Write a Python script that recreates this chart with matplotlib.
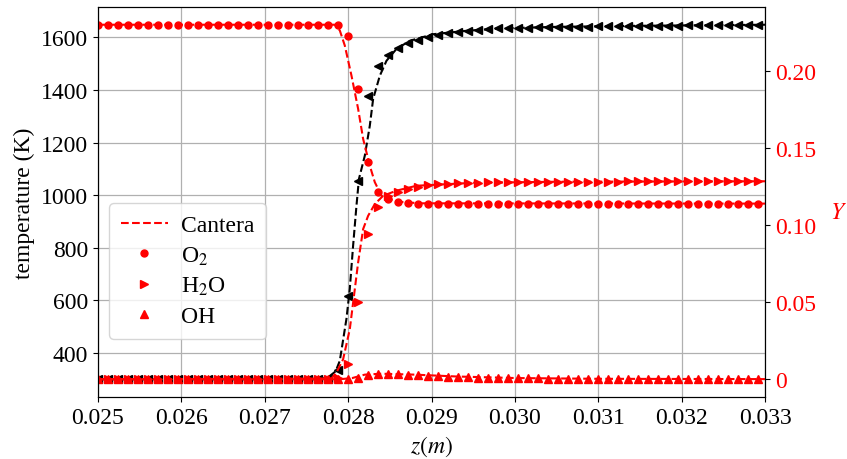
import numpy as np
import matplotlib
matplotlib.use("Agg")
import matplotlib.pyplot as plt
from matplotlib.ticker import FuncFormatter

plt.rcParams['font.family'] = ['Liberation Serif', 'DejaVu Serif']
plt.rcParams['mathtext.fontset'] = 'stix'
plt.rcParams['font.size'] = 17

# solver grid (uniform spacing) used for the marker series
z_grid = 0.025 + 0.00012 * np.arange(67)

T_pts = [300] * 24 + [334, 616, 1055, 1377, 1490, 1533, 1559, 1578, 1591, 1600,
                      1610, 1617, 1622, 1626, 1629, 1632, 1634, 1635, 1636, 1637,
                      1638, 1639, 1640, 1640, 1641, 1641, 1642, 1642, 1643, 1643,
                      1644, 1644, 1645, 1645, 1645, 1646, 1646, 1646, 1647, 1647,
                      1647, 1648, 1648]
O2_pts = [0.2301] * 25 + [0.2231, 0.1885, 0.1408, 0.1217, 0.1170, 0.1148, 0.1142] + [0.1140] * 35
H2O_pts = [0.0] * 24 + [0.0005, 0.0097, 0.0499, 0.0942, 0.1116, 0.1191, 0.1217, 0.1235,
                        0.1250, 0.1259, 0.1265, 0.1270, 0.1273, 0.1275, 0.1277, 0.1278,
                        0.1279, 0.1279, 0.1280, 0.1280, 0.1281, 0.1281, 0.1282, 0.1282,
                        0.1282, 0.1283, 0.1283, 0.1283, 0.1283, 0.1284, 0.1284, 0.1284,
                        0.1284, 0.1284, 0.1285, 0.1285, 0.1285, 0.1285, 0.1285, 0.1285,
                        0.1285, 0.1285, 0.1285]
OH_pts = [0.0] * 26 + [0.0005, 0.0025, 0.0034, 0.0034, 0.0031, 0.0028, 0.0025, 0.0022,
                       0.0019, 0.0016, 0.0014, 0.0012, 0.0010, 0.0009, 0.0008, 0.0007,
                       0.0006, 0.0005, 0.0005, 0.0004, 0.0003, 0.0003, 0.0003, 0.0003,
                       0.0003] + [0.0002] * 8 + [0.0001] * 8

# Cantera reference solution
z_T = [0.025, 0.0276, 0.02775, 0.02785, 0.0279, 0.02798, 0.02802, 0.02806, 0.0281,
       0.02813, 0.0282, 0.02826, 0.0283, 0.02838, 0.02846, 0.02858, 0.02874, 0.02902,
       0.02942, 0.02982, 0.0305, 0.0315, 0.033]
T_cantera = [300, 300, 305, 330, 370, 530, 644, 809, 960, 1062, 1150, 1264, 1366, 1454,
             1511, 1556, 1587, 1612, 1625, 1634, 1640, 1644, 1648]

z_O2 = [0.025, 0.02784, 0.0279, 0.02796, 0.02804, 0.02812, 0.02818, 0.02826, 0.02832,
        0.0284, 0.0285, 0.02862, 0.02886, 0.033]
O2_cantera = [0.2301, 0.2301, 0.2264, 0.2166, 0.1971, 0.1755, 0.1560, 0.1386, 0.1279,
              0.1191, 0.1170, 0.1152, 0.1142, 0.1140]

z_H2O = [0.025, 0.0278, 0.02786, 0.02794, 0.02802, 0.02807, 0.02812, 0.02818, 0.02824,
         0.02832, 0.02842, 0.02858, 0.02882, 0.0295, 0.0305, 0.033]
H2O_cantera = [0.0, 0.0005, 0.0044, 0.0130, 0.0325, 0.0541, 0.0758, 0.0975, 0.1061,
               0.1137, 0.1191, 0.1224, 0.1256, 0.1275, 0.1282, 0.1285]

z_OH = [0.025, 0.0279, 0.02805, 0.0282, 0.0284, 0.0288, 0.0293, 0.030, 0.031, 0.033]
OH_cantera = [0.0, 0.0, 0.0008, 0.0030, 0.0036, 0.0030, 0.0018, 0.0008, 0.0003, 0.0001]


fig = plt.figure(figsize=(8.47, 4.60), dpi=100)
ax = fig.add_axes([0.1157, 0.1348, 0.7875, 0.8478])
ax2 = ax.twinx()

ax.plot(z_T, T_cantera, "k--", lw=1.5)
ax.plot(z_grid, T_pts, "k<", ms=5.5, ls="none")
ax.set_xlim(0.025, 0.033)
ax.set_ylabel("temperature (K)")
ax.set_xlabel("$z(m)$")
ax.grid(color="#b0b0b0", lw=0.9)
ax.set_axisbelow(True)

ax2.plot(z_O2, O2_cantera, "r--", lw=1.5, label="Cantera")
ax2.plot(z_H2O, H2O_cantera, "r--", lw=1.5)
ax2.plot(z_OH, OH_cantera, "r--", lw=1.5)
ax2.plot(z_grid, O2_pts, "ro", ms=5, ls="none", label="O$_2$")
ax2.plot(z_grid, H2O_pts, "r>", ms=5.5, ls="none", label="H$_2$O")
ax2.plot(z_grid, OH_pts, "r^", ms=5.5, ls="none", label="OH")
ax2.set_xlim(0.025, 0.033)
ax2.set_ylabel("$Y$", color="red", rotation=0, labelpad=16)
ax2.tick_params(axis="y", labelcolor="red")
ax2.yaxis.set_major_formatter(FuncFormatter(lambda v, p: "0" if abs(v) < 1e-12 else f"{v:.2f}"))

ax2.legend(loc="lower left", bbox_to_anchor=(0.0165, 0.149), borderaxespad=0,
           labelspacing=0.35, handletextpad=0.55, borderpad=0.5)

fig.savefig("out.png", dpi=100)
